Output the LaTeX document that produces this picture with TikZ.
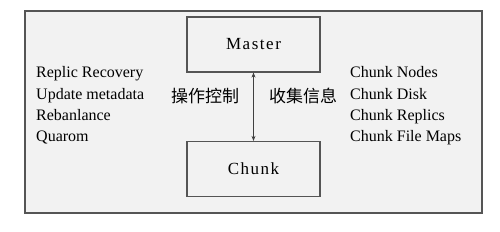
\documentclass[tikz,border=0pt]{standalone}
\usepackage{fontspec}
\setmainfont{Liberation Serif}
\newfontfamily\cjk{Noto Sans CJK SC}
\newfontfamily\boxfont[LetterSpace=9]{Liberation Serif}
\usetikzlibrary{arrows.meta}
\definecolor{panel}{HTML}{F2F2F2}
\definecolor{edge}{HTML}{555555}
\tikzset{
  box/.style={draw=edge, line width=1.2pt, fill=panel, minimum width=133pt, minimum height=55pt, inner sep=0pt, font=\boxfont\fontsize{17}{17}\selectfont},
  lbl/.style={anchor=north west, align=left, inner sep=0pt, font=\fontsize{16}{21.3}\selectfont},
  cn/.style={inner sep=0pt, font=\cjk\fontsize{17}{17}\selectfont},
}
\begin{document}
\begin{tikzpicture}[x=1pt,y=-1pt]
\useasboundingbox (0,0) rectangle (500,231);
\fill[white] (0,0) rectangle (500,231);
\draw[draw=edge, line width=1.4pt, fill=panel] (25,11) rectangle (482,213);
\node[box] (master) at (253.5,44.5) {Master};
\node[box] (chunk) at (253.5,169) {Chunk};
\draw[{Stealth[length=5pt,width=4pt]}-{Stealth[length=5pt,width=4pt]}, draw=black!75, line width=0.8pt] (master.south) -- (chunk.north);
\node[lbl] (left) at (36,66.5) {Replic Recovery\\Update metadata\\Rebanlance\\Quarom};
\node[lbl] (right) at (350,66.5) {Chunk Nodes\\Chunk Disk\\Chunk Replics\\Chunk File Maps};
\node[cn] (ctrl) at (205,96) {操作控制};
\node[cn] (collect) at (303,96) {收集信息};
\end{tikzpicture}
\end{document}
